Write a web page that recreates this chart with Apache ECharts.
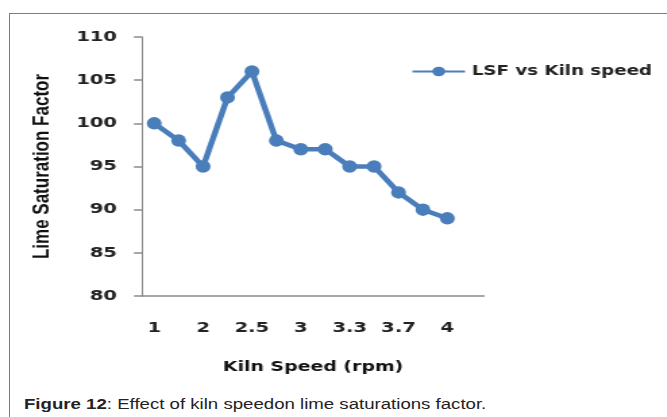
<!DOCTYPE html>
<html>
<head>
<meta charset="utf-8">
<script src="https://cdn.jsdelivr.net/npm/echarts@6/dist/echarts.min.js"></script>
<style>
  html, body { margin: 0; padding: 0; background: #fff; }
  #page { position: relative; width: 667px; height: 417px; overflow: hidden; background: #fff; }
  #frame { position: absolute; left: 9px; top: 13px; width: 700px; height: 500px;
           border-left: 1.5px solid #27a590; border-top: 1.5px solid #27a590; }
  #chart { position: absolute; left: 0; top: 0; width: 494px; height: 390px;
           transform: scaleX(1.35); transform-origin: 0 0; }
  #caption { position: absolute; left: 24px; top: 396px; font-family: "Liberation Sans", Arial, sans-serif;
             font-size: 14px; color: #222; white-space: nowrap;
             transform: scaleX(1.33); transform-origin: 0 0; }
</style>
</head>
<body>
<div id="page">
  <div id="frame"></div>
  <div id="chart"></div>
  <div id="caption"><b>Figure 12</b>: Effect of kiln speedon lime saturations factor.</div>
</div>
<script>
// Kiln speed categories (only every other one is labelled in the original)
const speedLabels = ['1', '', '2', '', '2.5', '', '3', '', '3.3', '', '3.7', '', '4', ''];
// Lime Saturation Factor values
const lsfValues = [100, 98, 95, 103, 106, 98, 97, 97, 95, 95, 92, 90, 89, null];
const seriesName = 'LSF vs Kiln speed';
const yTicks = { min: 80, max: 110, interval: 5 };

const chart = echarts.init(document.getElementById('chart'), null, { renderer: 'canvas' });
const font = 'DejaVu Sans, Verdana, sans-serif';
chart.setOption({
  animation: false,
  backgroundColor: 'transparent',
  grid: { left: 105.2, top: 37, width: 253.3, height: 259, containLabel: false },
  legend: {
    data: [seriesName],
    left: 304.5, top: 64.5, padding: 0,
    itemWidth: 39, itemHeight: 12, itemGap: 5,
    selectedMode: false,
    textStyle: { fontFamily: font, fontSize: 13.5, fontWeight: 'bold', color: '#222' }
  },
  xAxis: {
    type: 'category',
    data: speedLabels,
    boundaryGap: true,
    axisLine: { show: true, lineStyle: { color: '#8a8a8a', width: 1.5 } },
    axisTick: { show: false },
    axisLabel: { interval: 0, margin: 24.5, fontFamily: font, fontSize: 14.5, fontWeight: 'bold', color: '#222' },
    splitLine: { show: false },
    name: 'Kiln Speed (rpm)',
    nameLocation: 'middle',
    nameGap: 64,
    nameTextStyle: { fontFamily: font, fontSize: 14, fontWeight: 'bold', color: '#111' }
  },
  yAxis: {
    type: 'value',
    min: yTicks.min, max: yTicks.max, interval: yTicks.interval,
    axisLine: { show: true, lineStyle: { color: '#8a8a8a', width: 1 } },
    axisTick: { show: true, length: 6, lineStyle: { color: '#8a8a8a', width: 1.5 } },
    axisLabel: { margin: 18.5, fontFamily: font, fontSize: 14.5, fontWeight: 'bold', color: '#222' },
    splitLine: { show: false },
    name: 'Lime Saturation Factor',
    nameLocation: 'middle',
    nameGap: 65,
    nameRotate: 90,
    nameTextStyle: { fontFamily: 'Liberation Sans Narrow, Arial Narrow, sans-serif', fontSize: 17, fontWeight: 'bold', color: '#111' }
  },
  series: [{
    name: seriesName,
    type: 'line',
    data: lsfValues,
    symbol: 'circle',
    symbolSize: [11, 12.5],
    showAllSymbol: true,
    lineStyle: { color: '#4a7ebb', width: 4.5 },
    itemStyle: { color: '#4a7ebb' },
    connectNulls: false
  }]
});
</script>
</body>
</html>
